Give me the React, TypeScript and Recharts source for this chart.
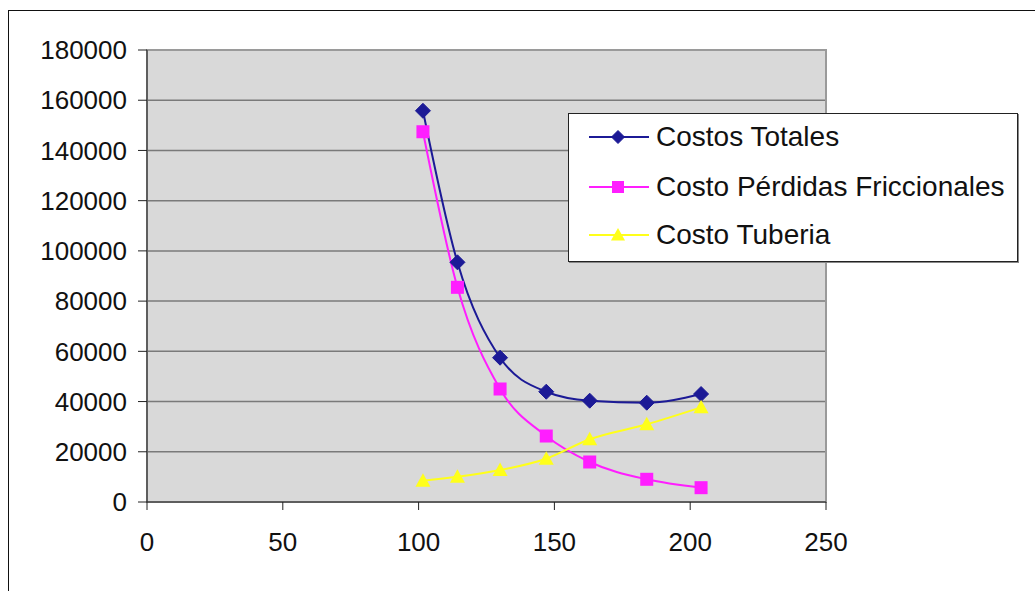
import React from 'react';
import { LineChart, Line, XAxis, YAxis, CartesianGrid, ReferenceArea } from 'recharts';

// diámetros (mm) y costos
const diametros = [101.6, 114.3, 130, 147, 163, 184, 204];
const costosTotales = [155800, 95450, 57460, 43920, 40340, 39540, 43000];
const costoPerdidas = [147450, 85490, 45000, 26280, 15930, 9040, 5700];
const costoTuberia = [8480, 10070, 12740, 17250, 24970, 30940, 37700];

const xTicks = [0, 50, 100, 150, 200, 250];
const yTicks = [0, 20000, 40000, 60000, 80000, 100000, 120000, 140000, 160000, 180000];

const data = diametros.map((d, i) => ({
    x: d,
    totales: costosTotales[i],
    perdidas: costoPerdidas[i],
    tuberia: costoTuberia[i],
}));

const NAVY = '#1C1A96';
const MAGENTA = '#FF1EFF';
const YELLOW = '#FFFF1A';

const Diamond = ({ cx, cy, r, color }: any) => (
    <path d={`M${cx},${cy - r}L${cx + r},${cy}L${cx},${cy + r}L${cx - r},${cy}Z`} fill={color} stroke={color} strokeWidth={1} />
);
const Square = ({ cx, cy, r, color }: any) => (
    <rect x={cx - r} y={cy - r} width={2 * r} height={2 * r} fill={color} />
);
const Triangle = ({ cx, cy, r, color }: any) => (
    <path d={`M${cx},${cy - r}L${cx + r},${cy + r * 0.8}L${cx - r},${cy + r * 0.8}Z`} fill={color} />
);

const series = [
    { key: 'totales', name: 'Costos Totales', color: NAVY, Mark: Diamond, r: 7.5, lr: 6.5 },
    { key: 'perdidas', name: 'Costo Pérdidas Friccionales', color: MAGENTA, Mark: Square, r: 6.5, lr: 6 },
    { key: 'tuberia', name: 'Costo Tuberia', color: YELLOW, Mark: Triangle, r: 7.5, lr: 7 },
];

const LegendBox = () => (
    <div
        style={{
            position: 'absolute',
            left: 568,
            top: 113,
            width: 448,
            height: 147,
            background: '#fff',
            border: '1px solid #222',
            boxShadow: '1px 1px 0 #888',
            fontFamily: '"Liberation Sans", Arial, sans-serif',
            fontSize: 28,
            color: '#111',
        }}
    >
        {series.map((s, i) => (
            <div key={s.key} style={{ position: 'absolute', left: 0, top: [23, 73, 121][i] - 24, height: 48, display: 'flex', alignItems: 'center' }}>
                <svg width={87} height={48} style={{ display: 'block' }}>
                    <line x1={20} x2={80} y1={24} y2={24} stroke={s.color} strokeWidth={2} />
                    <s.Mark cx={49} cy={24} r={s.lr} color={s.color} />
                </svg>
                <span style={{ whiteSpace: 'nowrap' }}>{s.name}</span>
            </div>
        ))}
    </div>
);

export default function App() {
    const tickStyle = { fontSize: 26, fill: '#111', fontFamily: '"Liberation Sans", Arial, sans-serif' };
    return (
        <div style={{ position: 'absolute', left: 0, top: 0, width: 1035, height: 591, background: '#fff', overflow: 'hidden' }}>
            <div style={{ position: 'absolute', left: 8, top: 10, width: 1100, height: 700, border: '1px solid #111' }} />
            <div style={{ position: 'absolute', left: 0, top: 0 }}>
                <LineChart width={1035} height={591} data={data} margin={{ top: 50, right: 209, bottom: 0, left: 0 }}>
                    <CartesianGrid vertical={false} stroke="#7a7a7a" strokeWidth={1.5} fill="#D9D9D9" fillOpacity={1} />
                    <ReferenceArea x1={0} x2={250} y1={0} y2={180000} fill="none" stroke="#9a9a9a" strokeWidth={2} ifOverflow="visible" />
                    <XAxis
                        type="number"
                        dataKey="x"
                        domain={[0, 250]}
                        ticks={xTicks}
                        height={89}
                        tickSize={8}
                        tickMargin={23}
                        stroke="#222"
                        tick={tickStyle}
                        interval={0}
                    />
                    <YAxis
                        type="number"
                        domain={[0, 180000]}
                        ticks={yTicks}
                        width={147}
                        tickSize={9}
                        tickMargin={11}
                        stroke="#222"
                        tick={tickStyle}
                        interval={0}
                    />
                    {series.map((s) => (
                        <Line
                            key={s.key}
                            type="monotone"
                            dataKey={s.key}
                            name={s.name}
                            stroke={s.color}
                            strokeWidth={2}
                            isAnimationActive={false}
                            dot={(p: any) => <s.Mark key={`${s.key}-${p.index}`} cx={p.cx} cy={p.cy} r={s.r} color={s.color} />}
                            activeDot={false}
                        />
                    ))}
                </LineChart>
            </div>
            <LegendBox />
        </div>
    );
}
